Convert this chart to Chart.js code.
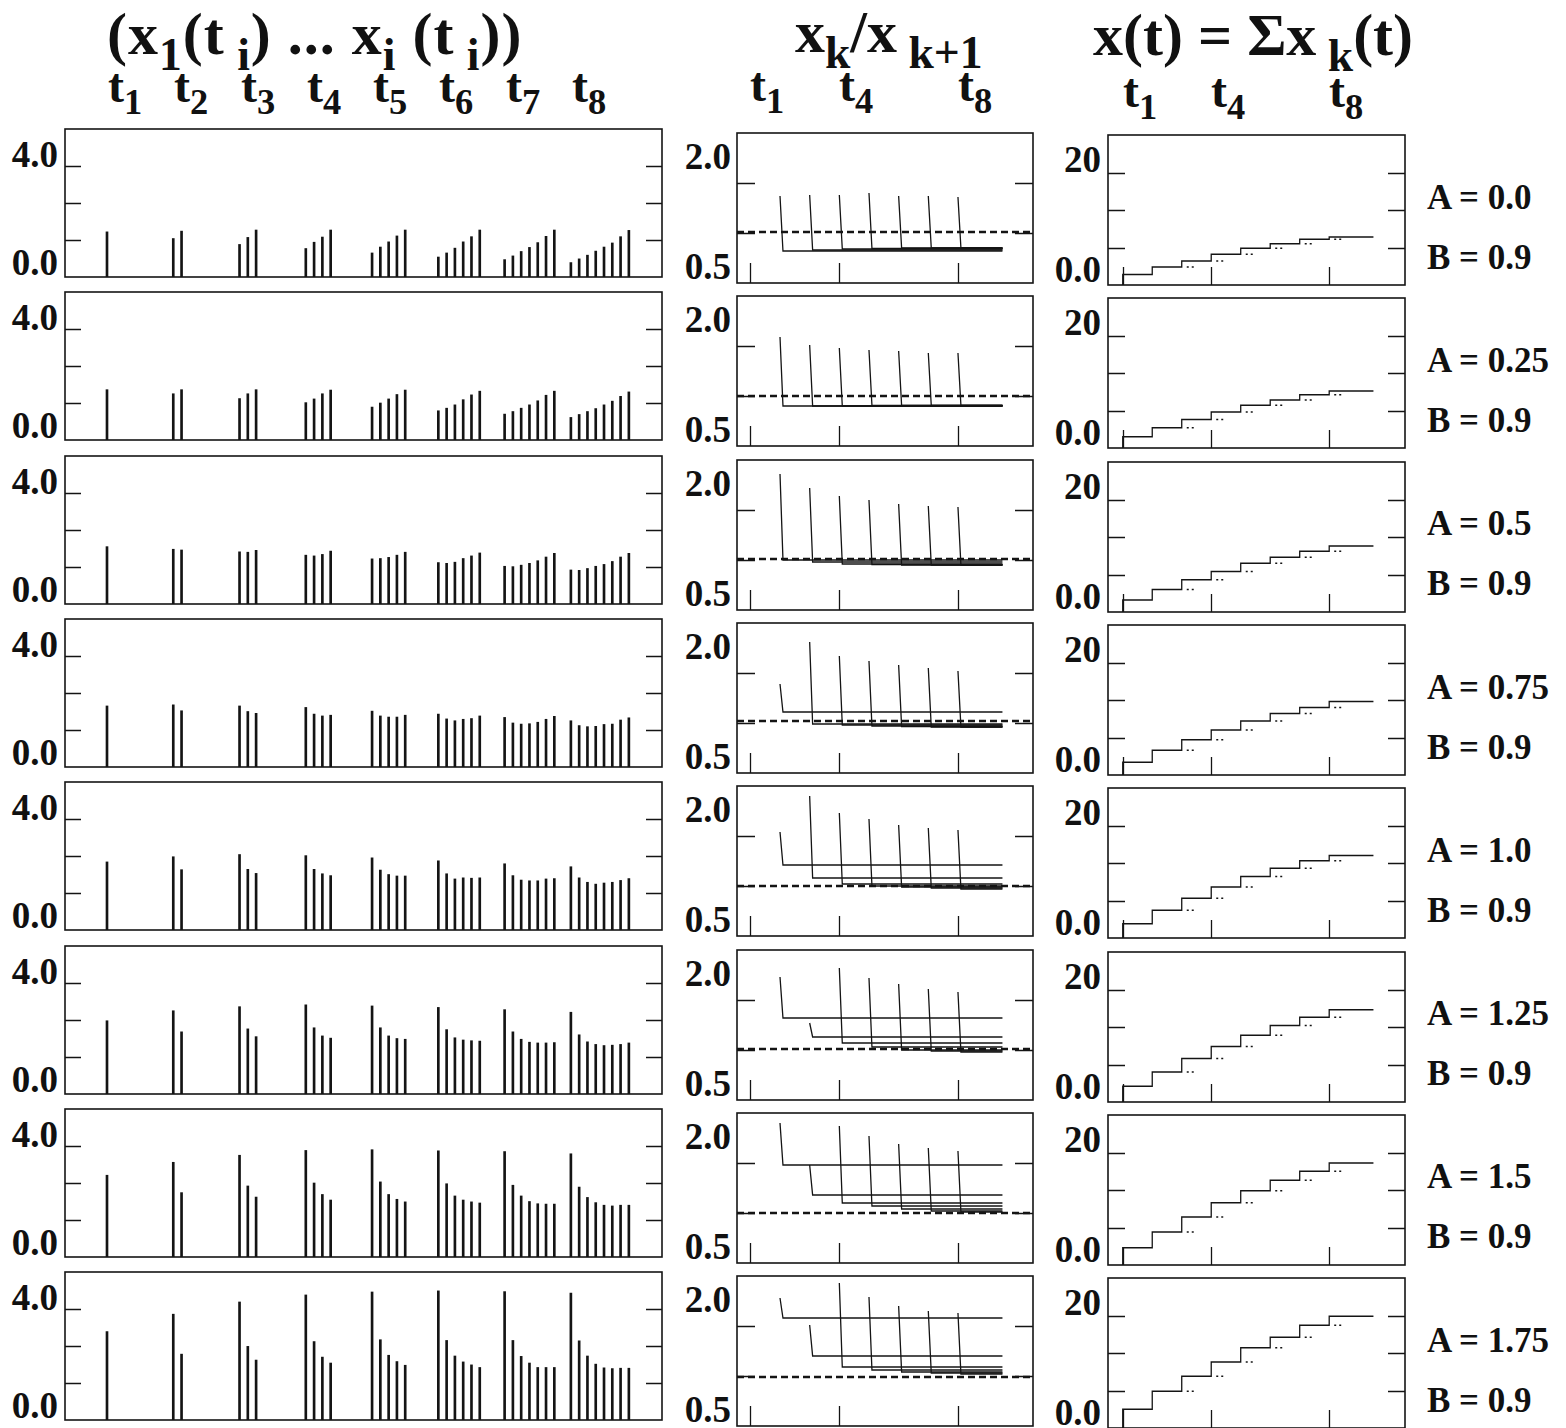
<!DOCTYPE html>
<html>
<head>
<meta charset="utf-8">
<script src="https://cdn.jsdelivr.net/npm/chart.js@4.4.1/dist/chart.umd.min.js"></script>
<style>
body { margin: 0; background: #fff; }
#page { position: relative; width: 1566px; height: 1428px; overflow: hidden; background: #fff;
        font-family: "Liberation Serif", "DejaVu Serif", serif; font-weight: bold; color: #111; }
.lbl { position: absolute; white-space: nowrap; line-height: 1; }
.lbl sub { font-size: 0.76em; vertical-align: -0.34em; line-height: 0; }
</style>
</head>
<body>
<div id="page"></div>
<script>
const aValues = ["0.0", "0.25", "0.5", "0.75", "1.0", "1.25", "1.5", "1.75"];
const bValue = "0.9";

// column 1: x_k(t_i), one list per t_i with k = 1..i
const spikesA000 = [
    [1.22], [1.04, 1.24], [0.88, 1.07, 1.27], [0.77, 0.94, 1.08, 1.27],
    [0.65, 0.81, 0.95, 1.11, 1.27], [0.54, 0.65, 0.78, 0.95, 1.09, 1.27],
    [0.47, 0.57, 0.69, 0.80, 0.93, 1.10, 1.27], [0.39, 0.49, 0.59, 0.70, 0.81, 0.92, 1.09, 1.26]
];
const spikesA025 = [
    [1.36], [1.25, 1.36], [1.12, 1.25, 1.36], [1.01, 1.11, 1.25, 1.35],
    [0.89, 1.00, 1.11, 1.23, 1.35], [0.79, 0.86, 0.95, 1.09, 1.22, 1.32],
    [0.70, 0.77, 0.86, 0.95, 1.06, 1.21, 1.32], [0.61, 0.69, 0.77, 0.85, 0.95, 1.05, 1.18, 1.30]
];
const spikesA050 = [
    [1.55], [1.48, 1.46], [1.41, 1.40, 1.45], [1.32, 1.30, 1.34, 1.43],
    [1.22, 1.23, 1.26, 1.32, 1.40], [1.12, 1.10, 1.13, 1.23, 1.30, 1.38],
    [1.02, 1.01, 1.05, 1.10, 1.17, 1.27, 1.37], [0.92, 0.91, 0.96, 1.02, 1.07, 1.15, 1.27, 1.37]
];
const spikesA075 = [
    [1.65], [1.68, 1.52], [1.65, 1.50, 1.45], [1.61, 1.43, 1.38, 1.40],
    [1.51, 1.38, 1.35, 1.35, 1.40], [1.43, 1.30, 1.25, 1.29, 1.31, 1.38],
    [1.34, 1.19, 1.16, 1.17, 1.21, 1.29, 1.37], [1.25, 1.12, 1.09, 1.10, 1.15, 1.16, 1.27, 1.33]
];
const spikesA100 = [
    [1.84], [1.98, 1.63], [2.04, 1.64, 1.53], [2.01, 1.64, 1.52, 1.47],
    [1.95, 1.62, 1.50, 1.46, 1.46], [1.87, 1.52, 1.38, 1.41, 1.40, 1.41],
    [1.79, 1.47, 1.35, 1.33, 1.33, 1.38, 1.39], [1.71, 1.41, 1.29, 1.24, 1.27, 1.29, 1.34, 1.39]
];
const spikesA125 = [
    [1.98], [2.25, 1.68], [2.36, 1.76, 1.55], [2.41, 1.79, 1.57, 1.51],
    [2.38, 1.79, 1.57, 1.50, 1.48], [2.34, 1.74, 1.52, 1.46, 1.44, 1.43],
    [2.28, 1.68, 1.48, 1.40, 1.38, 1.38, 1.39], [2.21, 1.60, 1.41, 1.34, 1.31, 1.32, 1.34, 1.38]
];
const spikesA150 = [
    [2.21], [2.56, 1.74], [2.75, 1.92, 1.62], [2.88, 2.00, 1.69, 1.54],
    [2.90, 2.03, 1.69, 1.56, 1.49], [2.87, 1.98, 1.65, 1.54, 1.49, 1.46],
    [2.85, 1.94, 1.65, 1.50, 1.44, 1.43, 1.43], [2.79, 1.89, 1.61, 1.47, 1.40, 1.38, 1.40, 1.40]
];
const spikesA175 = [
    [2.39], [2.86, 1.78], [3.19, 1.99, 1.62], [3.38, 2.12, 1.70, 1.54],
    [3.46, 2.17, 1.75, 1.58, 1.48], [3.49, 2.15, 1.73, 1.57, 1.49, 1.42],
    [3.47, 2.15, 1.72, 1.54, 1.42, 1.42, 1.42], [3.43, 2.14, 1.73, 1.51, 1.41, 1.39, 1.40, 1.40]
];

// column 2: x_k/x_k+1, spike top at t_k+1 and the level it settles to
const ratioTopA000 = [1.37, 1.38, 1.38, 1.40, 1.37, 1.37, 1.36];
const ratioLevelA000 = [0.82, 0.83, 0.84, 0.845, 0.85, 0.85, 0.85];
const ratioTopA025 = [1.59, 1.51, 1.48, 1.46, 1.45, 1.43, 1.43];
const ratioLevelA025 = [0.90, 0.90, 0.90, 0.905, 0.905, 0.905, 0.905];
const ratioTopA050 = [1.86, 1.72, 1.64, 1.60, 1.56, 1.54, 1.53];
const ratioLevelA050 = [1.00, 0.98, 0.96, 0.955, 0.95, 0.95, 0.95];
const ratioTopA075 = [1.39, 1.81, 1.67, 1.62, 1.58, 1.55, 1.52];
const ratioLevelA075 = [1.11, 0.99, 0.98, 0.97, 0.965, 0.96, 0.96];
const ratioTopA100 = [1.54, 1.90, 1.73, 1.67, 1.61, 1.58, 1.56];
const ratioLevelA100 = [1.21, 1.08, 1.02, 1.00, 0.99, 0.98, 0.97];
const ratioTopA125 = [1.73, 1.27, 1.82, 1.72, 1.66, 1.61, 1.58];
const ratioLevelA125 = [1.32, 1.13, 1.07, 1.03, 1.00, 0.99, 0.98];
const ratioTopA150 = [1.90, 1.48, 1.87, 1.77, 1.69, 1.65, 1.62];
const ratioLevelA150 = [1.48, 1.18, 1.10, 1.07, 1.04, 1.02, 1.01];
const ratioTopA175 = [1.78, 1.51, 1.93, 1.79, 1.70, 1.65, 1.63];
const ratioLevelA175 = [1.58, 1.20, 1.09, 1.06, 1.04, 1.03, 1.02];
const ratioDashed = [1.01, 1.00, 1.01, 1.02, 1.00, 1.01, 1.00, 0.99];

// column 3: x(t) after each t_i
const sumA000 = [1.4, 2.4, 3.2, 4.1, 4.9, 5.5, 6.1, 6.4];
const sumA025 = [1.5, 2.7, 3.8, 4.8, 5.7, 6.4, 7.1, 7.6];
const sumA050 = [1.6, 3.0, 4.3, 5.4, 6.5, 7.3, 8.1, 8.8];
const sumA075 = [1.7, 3.3, 4.7, 6.0, 7.2, 8.2, 9.0, 9.8];
const sumA100 = [1.9, 3.7, 5.3, 6.8, 8.2, 9.3, 10.3, 11.0];
const sumA125 = [2.1, 4.0, 5.8, 7.4, 8.9, 10.2, 11.3, 12.3];
const sumA150 = [2.3, 4.4, 6.4, 8.3, 9.9, 11.3, 12.5, 13.6];
const sumA175 = [2.5, 4.9, 6.9, 8.8, 10.7, 12.1, 13.7, 14.9];

const spikeRows = [spikesA000, spikesA025, spikesA050, spikesA075, spikesA100, spikesA125, spikesA150, spikesA175];
const ratioTopRows = [ratioTopA000, ratioTopA025, ratioTopA050, ratioTopA075, ratioTopA100, ratioTopA125, ratioTopA150, ratioTopA175];
const ratioLevelRows = [ratioLevelA000, ratioLevelA025, ratioLevelA050, ratioLevelA075, ratioLevelA100, ratioLevelA125, ratioLevelA150, ratioLevelA175];
const sumRows = [sumA000, sumA025, sumA050, sumA075, sumA100, sumA125, sumA150, sumA175];

const tEnd = 9.5;
const ink = "#141414";
const pitch = 163.3;
const col1 = { left: 65, top: 129, width: 597, height: 148, xMin: -5.07, xMax: 67.0 };
const col2 = { left: 737, top: 133, width: 296, height: 150, xMin: 0.55, xMax: 10.53 };
const col3 = { left: 1108, top: 135, width: 297, height: 150, xMin: 0.5, xMax: 10.57 };

let page = document.getElementById("page");

// box outline with the short inward ticks of the original
const framePlugin = {
    id: "frame",
    afterDraw(chart, args, opts) {
        const {ctx, chartArea: {left, right, top, bottom}} = chart;
        const xs = chart.scales.x;
        const ys = chart.scales.y;

        ctx.save();
        ctx.strokeStyle = ink;
        ctx.lineWidth = 1.6;
        ctx.strokeRect(left, top, right - left, bottom - top);
        ctx.lineWidth = 1.3;
        ctx.beginPath();
        for(let v of opts.yTicks) {
            let py = Math.round(ys.getPixelForValue(v)) + 0.5;
            ctx.moveTo(left, py);
            ctx.lineTo(left + opts.len, py);
            ctx.moveTo(right, py);
            ctx.lineTo(right - opts.len, py);
        }
        for(let v of opts.xTicks) {
            let px = Math.round(xs.getPixelForValue(v)) + 0.5;
            ctx.moveTo(px, bottom);
            ctx.lineTo(px, bottom - opts.xLen);
        }
        ctx.stroke();
        ctx.restore();
    },
};

function label(html, x, baseline, size, alignRight, spacing) {
    let div = document.createElement("div");
    div.className = "lbl";
    div.innerHTML = html;
    div.style.fontSize = size + "px";
    div.style.top = (baseline - 0.8375 * size) + "px";
    if(spacing)
        div.style.letterSpacing = spacing + "px";
    if(alignRight)
        div.style.right = (1566 - x) + "px";
    else
        div.style.left = x + "px";
    page.append(div);
}

function makeCanvas(col, row) {
    let canvas = document.createElement("canvas");
    canvas.width = col.width + 4;
    canvas.height = col.height + 4;
    canvas.style.position = "absolute";
    canvas.style.left = (col.left - 2) + "px";
    canvas.style.top = (col.top + row * pitch - 2) + "px";
    page.append(canvas);
    return canvas;
}

function baseOptions(col, yMin, yMax, frame) {
    return {
        responsive: false,
        animation: false,
        events: [],
        layout: { padding: 2 },
        plugins: {
            legend: { display: false },
            tooltip: { enabled: false },
            frame: frame,
        },
        scales: {
            x: { type: "linear", display: false, min: col.xMin, max: col.xMax, offset: false },
            y: { type: "linear", display: false, min: yMin, max: yMax },
        },
    };
}

function spikeChart(row) {
    let points = [];
    spikeRows[row].forEach((group, i) => {
        group.forEach((v, k) => points.push({ x: 8 * i + k, y: v }));
    });

    new Chart(makeCanvas(col1, row), {
        type: "bar",
        data: {
            datasets: [{
                data: points,
                backgroundColor: ink,
                borderWidth: 0,
                barThickness: 2,
                grouped: false,
            }],
        },
        options: baseOptions(col1, 0, 4, { yTicks: [1, 2, 3], xTicks: [], len: 16, xLen: 0 }),
        plugins: [framePlugin],
    });
}

function ratioChart(row) {
    let tops = ratioTopRows[row];
    let levels = ratioLevelRows[row];
    let datasets = tops.map((top, k) => ({
        data: [
            { x: k + 2, y: top },
            { x: k + 2.1, y: levels[k] },
            { x: tEnd, y: levels[k] },
        ],
        borderColor: ink,
        borderWidth: 1.3,
        pointRadius: 0,
        tension: 0,
    }));
    datasets.push({
        data: [{ x: col2.xMin, y: ratioDashed[row] }, { x: col2.xMax, y: ratioDashed[row] }],
        borderColor: ink,
        borderWidth: 2.4,
        borderDash: [7, 4],
        pointRadius: 0,
    });

    new Chart(makeCanvas(col2, row), {
        type: "line",
        data: { datasets: datasets },
        options: baseOptions(col2, 0.5, 2.0, { yTicks: [1.0, 1.5], xTicks: [1, 4, 8], len: 18, xLen: 20 }),
        plugins: [framePlugin],
    });
}

function sumChart(row) {
    let levels = sumRows[row];
    let stairs = [{ x: 1, y: 0 }];
    levels.forEach((v, i) => stairs.push({ x: i + 1, y: v }));
    stairs.push({ x: tEnd, y: levels[levels.length - 1] });

    // short dotted piece of the previous level right after each jump
    let dots = [];
    for(let i = 3; i <= 8; i++) {
        dots.push({ x: i + 0.17, y: levels[i - 2] });
        dots.push({ x: i + 0.45, y: levels[i - 2] });
        dots.push({ x: i + 0.5, y: null });
    }

    new Chart(makeCanvas(col3, row), {
        type: "line",
        data: {
            datasets: [
                {
                    data: stairs,
                    stepped: "before",
                    borderColor: ink,
                    borderWidth: 1.3,
                    pointRadius: 0,
                },
                {
                    data: dots,
                    borderColor: ink,
                    borderWidth: 1.5,
                    borderDash: [2, 3],
                    pointRadius: 0,
                    spanGaps: false,
                },
            ],
        },
        options: baseOptions(col3, 0, 20, { yTicks: [5, 10, 15], xTicks: [1, 4, 8], len: 17, xLen: 18 }),
        plugins: [framePlugin],
    });
}

// headings
label("(x<sub>1</sub>(t<sub> i</sub>) ... x<sub>i</sub> (t<sub> i</sub>))", 107, 54, 60, false, 1);
label("x<sub>k</sub>/x<sub> k+1</sub>", 795, 52, 60);
label("x(t) = &Sigma;x<sub> k</sub>(t)", 1093, 55, 60);

for(let i = 0; i < 8; i++) {
    let px = col1.left + (8 * i - col1.xMin) * col1.width / (col1.xMax - col1.xMin);
    label("t<sub>" + (i + 1) + "</sub>", Math.round(px) + 1, 102, 48);
}
for(let t of [1, 4, 8]) {
    let px2 = col2.left + (t - col2.xMin) * col2.width / (col2.xMax - col2.xMin);
    label("t<sub>" + t + "</sub>", Math.round(px2), 101, 48);
    let px3 = col3.left + (t - col3.xMin) * col3.width / (col3.xMax - col3.xMin);
    label("t<sub>" + t + "</sub>", Math.round(px3), 107, 48);
}

for(let row = 0; row < 8; row++) {
    let t1 = col1.top + row * pitch;
    let t2 = col2.top + row * pitch;
    let t3 = col3.top + row * pitch;

    label("4.0", 58, t1 + 38, 37, true);
    label("0.0", 58, t1 + 146, 37, true);
    label("2.0", 731, t2 + 36, 37, true);
    label("0.5", 731, t2 + 146, 37, true);
    label("20", 1101, t3 + 37, 37, true);
    label("0.0", 1101, t3 + 147, 37, true);
    label("A = " + aValues[row], 1427, t3 + 74, 35);
    label("B = " + bValue, 1427, t3 + 134, 35);

    spikeChart(row);
    ratioChart(row);
    sumChart(row);
}
</script>
</body>
</html>
